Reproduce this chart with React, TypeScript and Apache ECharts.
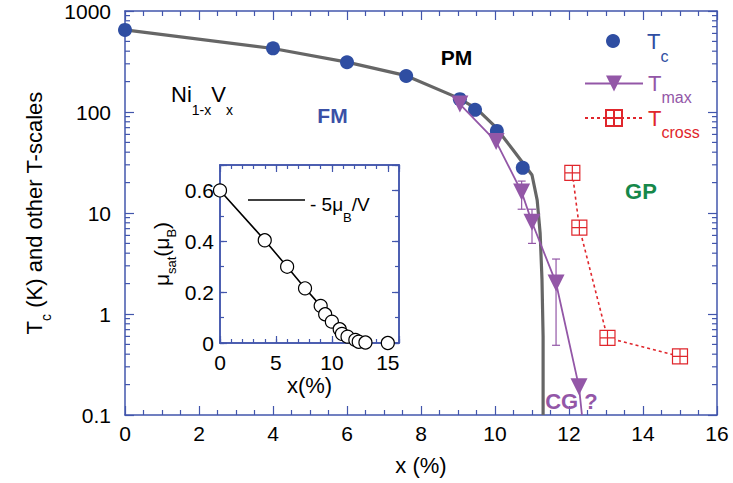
import React, { useEffect, useRef } from 'react';
import * as echarts from 'echarts';

const FONT = '"Liberation Sans", Arial, Helvetica, sans-serif';
const AX = '#4256AC';
const BLUE = '#2F4EA2';
const PURPLE = '#9357A7';
const RED = '#E0262C';
const GRAY = '#666666';
const GREEN = '#16884A';

// ---- main panel data ----
const X_MIN = 0;
const X_MAX = 16;
const tcX = [0, 4, 6, 7.6, 9.05, 9.46, 10.05, 10.75];
const tcY = [650, 427, 311, 227, 134, 105, 65, 28];
const tcFitX = [0, 4, 6, 7.6, 9, 9.5, 10, 10.49, 11.0, 11.14, 11.22, 11.27, 11.3, 11.3];
const tcFitY = [650, 425, 312, 229, 138, 108, 72, 42, 23.8, 13.4, 6.3, 2.2, 0.6, 0.1];
const tmaxX = [9.05, 10.03, 10.72, 11.0, 11.65, 12.27];
const tmaxY = [120, 51, 16.1, 8.1, 2.03, 0.19];
const tmaxTailX = 12.35;
const tmaxTailY = 0.1;
const errX = [10.72, 11.0, 11.65];
const errLow = [10.9, 5.0, 0.49];
const errHigh = [20.7, 10.9, 3.5];
const tcrossX = [12.09, 12.28, 13.04, 15.0];
const tcrossY = [25, 7.15, 0.58, 0.38];
const logDecades = [0.1, 1, 10, 100];
const logMinorMult = [2, 3, 4, 5, 6, 7, 8, 9];

// ---- inset data ----
const muX = [0, 4, 6, 7.6, 9, 9.4, 10, 10.7, 10.9, 11.4, 12.1, 12.4, 13, 15];
const muY = [0.6, 0.404, 0.3, 0.215, 0.146, 0.113, 0.084, 0.054, 0.036, 0.025, 0.012, 0.005, 0.002, 0.0];
const muLineCount = 12;
const MU_NAME = '- 5μB/V';

const subRich = (color: string, F: number, S: number, D: number, P: number, padLeft = 0) => ({
  a: { fontSize: F, lineHeight: F, fontFamily: FONT, color, verticalAlign: 'top', padding: [D, 0, 0, 0] },
  a0: { fontSize: F, lineHeight: F, fontFamily: FONT, color, verticalAlign: 'top', padding: [D, 0, 0, padLeft] },
  b: { fontSize: S, lineHeight: S, fontFamily: FONT, color, verticalAlign: 'top', padding: [P, 0, 0, 0] },
});

const mainX = (position: string, labels: boolean) => ({
  type: 'value', gridIndex: 0, position, min: X_MIN, max: X_MAX, interval: 2,
  axisLine: { show: true, onZero: false, lineStyle: { color: AX, width: 1.5 } },
  axisTick: { show: true, inside: true, length: 9, lineStyle: { color: AX, width: 1.2 } },
  minorTick: { show: true, splitNumber: 4, length: 5, lineStyle: { color: AX, width: 1.2 } },
  axisLabel: { show: labels, color: '#000', fontSize: 21, fontFamily: FONT, margin: 8 },
  splitLine: { show: false }, minorSplitLine: { show: false },
  ...(labels ? { name: 'x (%)', nameLocation: 'middle', nameGap: 39, nameTextStyle: { color: '#000', fontSize: 22, fontFamily: FONT } } : {}),
});

const mainY = (position: string, labels: boolean) => ({
  type: 'log', logBase: 10, gridIndex: 0, position, min: 0.1, max: 1000,
  axisLine: { show: true, onZero: false, lineStyle: { color: AX, width: 1.5 } },
  axisTick: { show: true, inside: true, length: 9, lineStyle: { color: AX, width: 1.2 } },
  axisLabel: {
    show: labels, color: '#000', fontSize: 21, fontFamily: FONT, margin: 14,
    formatter: (v: number) => String(+Number(v).toPrecision(3)),
  },
  splitLine: { show: false },
  ...(labels ? {
    name: '{a|T}{b|c}{a| (K) and other T-scales}', nameLocation: 'middle', nameGap: 78,
    nameTextStyle: { rich: subRich('#000', 22, 14, 0, 16) },
  } : {}),
});

const insetX = (position: string, interval: number, len: number, labels: boolean) => ({
  type: 'value', gridIndex: 1, position, min: 0, max: 16, interval,
  axisLine: { show: true, onZero: false, lineStyle: { color: AX, width: 1.5 } },
  axisTick: { show: true, inside: true, length: len, lineStyle: { color: AX, width: 1.2 } },
  axisLabel: {
    show: labels, color: '#000', fontSize: 21, fontFamily: FONT, margin: 9,
    formatter: (v: number) => (v % 5 === 0 ? String(v) : ''),
  },
  splitLine: { show: false },
  ...(labels ? { name: 'x(%)', nameLocation: 'middle', nameGap: 31, nameTextStyle: { color: '#000', fontSize: 22, fontFamily: FONT } } : {}),
});

const insetY = (position: string, interval: number, len: number, labels: boolean) => ({
  type: 'value', gridIndex: 1, position, min: 0, max: 0.7, interval,
  axisLine: { show: true, onZero: false, lineStyle: { color: AX, width: 1.5 } },
  axisTick: { show: true, inside: true, length: len, lineStyle: { color: AX, width: 1.2 } },
  axisLabel: {
    show: labels, color: '#000', fontSize: 21, fontFamily: FONT, margin: 6,
    formatter: (v: number) => (Math.abs(v * 5 - Math.round(v * 5)) < 1e-6 ? (v === 0 ? '0' : v.toFixed(1)) : ''),
  },
  splitLine: { show: false },
  ...(labels ? {
    name: '{a|μ}{b|sat}{a|(μ}{b|B}{a|)}', nameLocation: 'middle', nameGap: 48,
    nameTextStyle: { rich: subRich('#000', 21, 13, 0, 14) },
  } : {}),
});

const CROSS_BOX = 'path://M0,0L10,0L10,10L0,10Z M5,0L5,10 M0,5L10,5';

const legendBase = { selectedMode: false, orient: 'vertical', padding: 0, itemGap: 0 };

export default function App() {
  const ref = useRef<HTMLDivElement>(null);
  useEffect(() => {
    if (!ref.current) return;
    const chart = echarts.init(ref.current, null, { renderer: 'svg' });
    const logMinorData: number[][] = [];
    logDecades.forEach((d) => logMinorMult.forEach((m) => logMinorData.push([X_MIN, +(d * m).toPrecision(3)])));

    const tmaxData: any[] = tmaxX.map((x, i) => [x, tmaxY[i]]);
    tmaxData.push({ value: [tmaxTailX, tmaxTailY], symbol: 'none' });

    const option: any = {
      animation: false,
      backgroundColor: '#fff',
      textStyle: { fontFamily: FONT },
      grid: [
        { left: 125, top: 11, width: 592, height: 404, outerBoundsMode: 'none' },
        { left: 220, top: 165, width: 179, height: 178, outerBoundsMode: 'none' },
      ],
      xAxis: [
        mainX('bottom', true), mainX('top', false),
        insetX('bottom', 5, 7, true), insetX('bottom', 1, 4, false),
        insetX('top', 5, 7, false), insetX('top', 1, 4, false),
      ],
      yAxis: [
        mainY('left', true), mainY('right', false),
        insetY('left', 0.2, 7, true), insetY('left', 0.1, 4, false),
        insetY('right', 0.2, 7, false), insetY('right', 0.1, 4, false),
      ],
      legend: [
        {
          ...legendBase, data: [{ name: 'Tc', icon: 'circle' }],
          left: 606, top: 30, itemWidth: 14, itemHeight: 14,
          formatter: () => '{a0|T}{b|c}',
          textStyle: { rich: subRich(BLUE, 22, 16, 0, 18, 22) },
        },
        {
          ...legendBase, data: ['Tmax'],
          left: 584, top: 72.5, itemWidth: 58, itemHeight: 20,
          formatter: () => '{a|T}{b|max}',
          textStyle: { rich: subRich(PURPLE, 22, 16, 0, 17) },
        },
        {
          ...legendBase, data: ['Tcross'],
          left: 584, top: 107, itemWidth: 58, itemHeight: 20,
          formatter: () => '{a|T}{b|cross}',
          textStyle: { rich: subRich(RED, 22, 16, 0, 17) },
        },
        {
          ...legendBase, data: [{ name: MU_NAME, icon: 'rect' }],
          left: 248, top: 190.5, itemWidth: 57, itemHeight: 1.5,
          formatter: () => '{a|- 5μ}{b|B}{a|/V}',
          textStyle: { rich: subRich('#000', 19, 13, 4.7, 20.5) },
        },
      ],
      graphic: [
        { type: 'text', x: 456.5, y: 57.5, style: { text: 'PM', fill: '#000', font: `bold 21px ${FONT}`, textAlign: 'center', textVerticalAlign: 'middle' } },
        { type: 'text', x: 332.5, y: 115, style: { text: 'FM', fill: '#3A50A6', font: `bold 21px ${FONT}`, textAlign: 'center', textVerticalAlign: 'middle' } },
        { type: 'text', x: 641, y: 191.5, style: { text: 'GP', fill: GREEN, font: `bold 22px ${FONT}`, textAlign: 'center', textVerticalAlign: 'middle' } },
        { type: 'text', x: 571.5, y: 401.5, z: 10, style: { text: 'CG ?', fill: PURPLE, font: `bold 22px ${FONT}`, textAlign: 'center', textVerticalAlign: 'middle' } },
        {
          type: 'text', x: 171, y: 83,
          style: { text: '{a|Ni}{b|1-x}{a|V}{b|x}', rich: subRich('#000', 22, 14, 0, 20), textVerticalAlign: 'top' },
        },
      ],
      series: [
        {
          type: 'line', name: 'TcFit', xAxisIndex: 0, yAxisIndex: 0, data: tcFitX.map((x, i) => [x, tcFitY[i]]),
          symbol: 'none', lineStyle: { color: GRAY, width: 3.2 }, z: 2, silent: true,
        },
        {
          type: 'scatter', name: 'Tc', xAxisIndex: 0, yAxisIndex: 0, data: tcX.map((x, i) => [x, tcY[i]]),
          symbol: 'circle', symbolSize: 14, itemStyle: { color: BLUE, opacity: 1 }, z: 4,
        },
        {
          type: 'custom', name: 'errbar', xAxisIndex: 0, yAxisIndex: 0, z: 5,
          data: errX.map((x, i) => [x, errLow[i], errHigh[i]]),
          encode: { x: 0, y: [1, 2] },
          renderItem: (params: any, api: any) => {
            const x = api.value(0);
            const lo = api.coord([x, api.value(1)]);
            const hi = api.coord([x, api.value(2)]);
            const st = { stroke: PURPLE, lineWidth: 1.2 };
            return {
              type: 'group', children: [
                { type: 'line', shape: { x1: lo[0], y1: lo[1], x2: hi[0], y2: hi[1] }, style: st },
                { type: 'line', shape: { x1: lo[0] - 4, y1: lo[1], x2: lo[0] + 4, y2: lo[1] }, style: st },
                { type: 'line', shape: { x1: hi[0] - 4, y1: hi[1], x2: hi[0] + 4, y2: hi[1] }, style: st },
              ],
            };
          },
        },
        {
          type: 'line', name: 'Tmax', xAxisIndex: 0, yAxisIndex: 0, data: tmaxData,
          symbol: 'triangle', symbolRotate: 180, symbolSize: 17,
          itemStyle: { color: PURPLE }, lineStyle: { color: PURPLE, width: 1.8 }, z: 6,
        },
        {
          type: 'line', name: 'Tcross', xAxisIndex: 0, yAxisIndex: 0, data: tcrossX.map((x, i) => [x, tcrossY[i]]),
          symbol: CROSS_BOX, symbolSize: 15,
          itemStyle: { color: '#fff', borderColor: RED, borderWidth: 1.2 },
          lineStyle: { color: RED, width: 1.6, type: [3, 3] }, z: 6,
        },
        {
          type: 'custom', name: 'logMinor', xAxisIndex: 0, yAxisIndex: 0, z: 3, silent: true,
          data: logMinorData, encode: { x: 0, y: 1 },
          renderItem: (params: any, api: any) => {
            const v = api.value(1);
            const l = api.coord([X_MIN, v]);
            const r = api.coord([X_MAX, v]);
            const st = { stroke: AX, lineWidth: 1.2 };
            return {
              type: 'group', children: [
                { type: 'line', shape: { x1: l[0], y1: l[1], x2: l[0] + 5, y2: l[1] }, style: st },
                { type: 'line', shape: { x1: r[0] - 5, y1: r[1], x2: r[0], y2: r[1] }, style: st },
              ],
            };
          },
        },
        {
          type: 'line', name: MU_NAME, xAxisIndex: 2, yAxisIndex: 2,
          data: muX.slice(0, muLineCount).map((x, i) => [x, muY[i]]),
          symbol: 'none', itemStyle: { color: '#000' }, lineStyle: { color: '#000', width: 1.6 }, z: 7,
        },
        {
          type: 'scatter', name: 'mu', xAxisIndex: 2, yAxisIndex: 2, data: muX.map((x, i) => [x, muY[i]]),
          symbol: 'circle', symbolSize: 13, itemStyle: { color: '#fff', borderColor: '#000', borderWidth: 1.2, opacity: 1 }, z: 8,
        },
      ],
    };
    chart.setOption(option);
    return () => chart.dispose();
  }, []);
  return <div ref={ref} style={{ position: 'fixed', left: 0, top: 0, width: 733, height: 483 }} />;
}
